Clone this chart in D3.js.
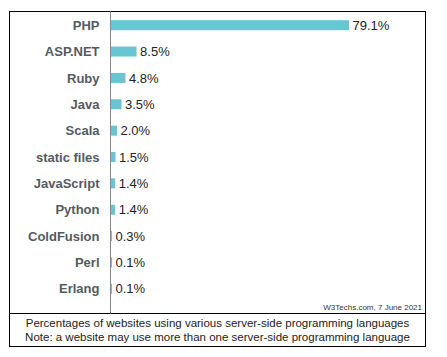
<!DOCTYPE html>
<html><head><meta charset="utf-8">
<script src="https://cdn.jsdelivr.net/npm/d3@7"></script>
<style>body{margin:0;background:#fff;}</style>
</head><body>
<script>
const languages = ["PHP","ASP.NET","Ruby","Java","Scala","static files","JavaScript","Python","ColdFusion","Perl","Erlang"];
const shares = [79.1,8.5,4.8,3.5,2.0,1.5,1.4,1.4,0.3,0.1,0.1];
const credit = "W3Techs.com, 7 June 2021";
const footerLines = ["Percentages of websites using various server-side programming languages","Note: a website may use more than one server-side programming language"];

const W=447,H=357;
const svg=d3.select("body").append("svg").attr("width",W).attr("height",H);
const font="Liberation Sans, Arial, sans-serif";
const boxL=9.5, boxR=425.5, boxT=11.5, boxB=346.5, divY=313.5, axisX=110.5;

const x=d3.scaleLinear().domain([0,79.1]).range([axisX+0.5,349]);
const y=d3.scaleBand().domain(languages).range([12,302]).paddingInner(0.62).paddingOuter(0.31);

svg.append("rect").attr("x",boxL).attr("y",boxT).attr("width",boxR-boxL).attr("height",boxB-boxT)
  .attr("fill","none").attr("stroke","#000").attr("stroke-width",1);
svg.append("line").attr("x1",boxL).attr("x2",boxR).attr("y1",divY).attr("y2",divY).attr("stroke","#000");

svg.selectAll("rect.bar").data(languages).enter().append("rect").attr("class","bar")
  .attr("x",x(0)).attr("y",d=>y(d)).attr("height",y.bandwidth())
  .attr("width",(d,i)=>Math.max(1,x(shares[i])-x(0))).attr("fill","#6ac5d3");

svg.append("line").attr("x1",axisX).attr("x2",axisX).attr("y1",boxT).attr("y2",divY).attr("stroke","#888").attr("stroke-width",1);

svg.selectAll("text.lab").data(languages).enter().append("text")
  .attr("x",99.5).attr("y",d=>y(d)+y.bandwidth()/2).attr("dy","0.36em")
  .attr("text-anchor","end").attr("font-family",font).attr("font-size",13).attr("font-weight","bold")
  .attr("fill","#535a62").text(d=>d);

svg.selectAll("text.val").data(languages).enter().append("text")
  .attr("x",(d,i)=>x(0)+Math.max(1,x(shares[i])-x(0))+3.5).attr("y",d=>y(d)+y.bandwidth()/2).attr("dy","0.36em")
  .attr("font-family",font).attr("font-size",13).attr("fill","#222")
  .text((d,i)=>shares[i].toFixed(1)+"%");

svg.append("text").attr("x",422).attr("y",310).attr("text-anchor","end")
  .attr("font-family",font).attr("font-size",8).attr("fill","#333").text(credit);

svg.selectAll("text.foot").data(footerLines).enter().append("text")
  .attr("x",217.5).attr("y",(d,i)=>327+i*14).attr("text-anchor","middle")
  .attr("font-family",font).attr("font-size",11.5).attr("fill","#222").text(d=>d);
</script>
</body></html>
